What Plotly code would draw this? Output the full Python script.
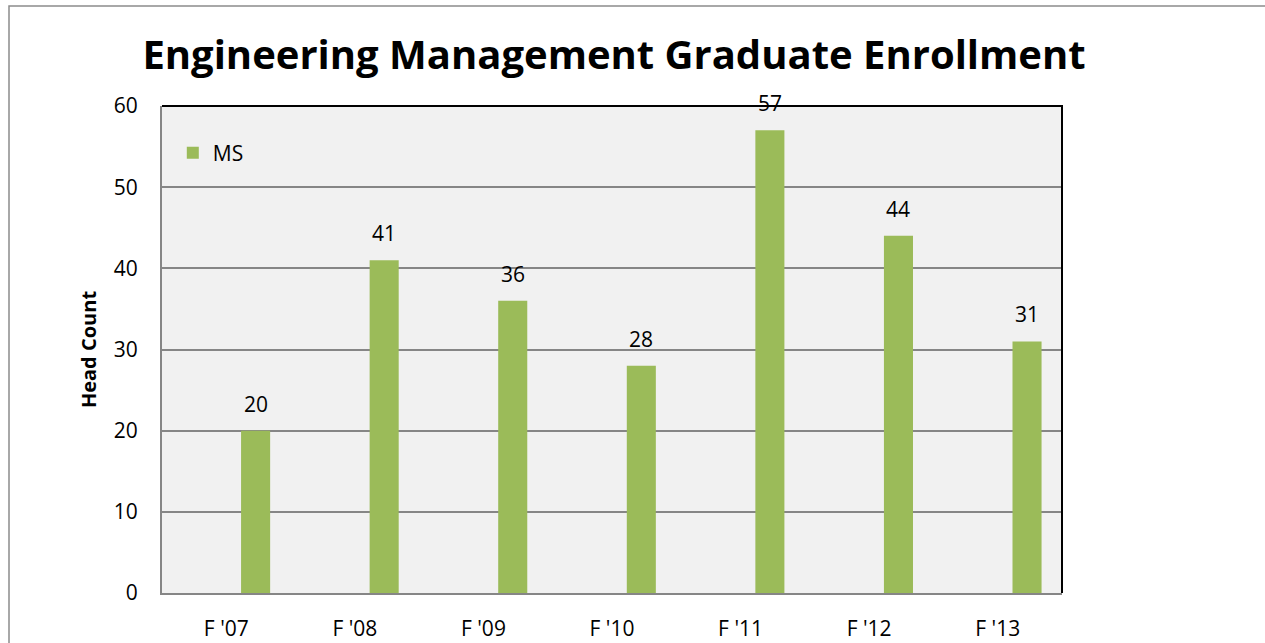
import plotly.graph_objects as go

categories = ["F '07", "F '08", "F '09", "F '10", "F '11", "F '12", "F '13"]
ms_values = [20, 41, 36, 28, 57, 44, 31]
series_name = "MS"
y_ticks = [0, 10, 20, 30, 40, 50, 60]

FONT = "Open Sans"
BAR_W = 0.226
BAR_OFF = 0.115

fig = go.Figure()
fig.add_trace(go.Bar(
    x=categories, y=ms_values, name=series_name,
    marker=dict(color="#9BBB59", line=dict(width=0)),
    width=BAR_W, offset=BAR_OFF,
))

for c, v in zip(categories, ms_values):
    fig.add_annotation(
        x=c, y=v, xref="x", yref="y", text=str(v), showarrow=False,
        xshift=(BAR_OFF + BAR_W / 2) * 900 / 7, yshift=27,
        font=dict(family=FONT, size=21, color="#000000"),
    )

# outer chart border (top and left edges visible)
fig.add_shape(type="path", xref="paper", yref="paper",
              path="M %f,%f L %f,%f L %f,%f" % (
                  (9 - 162) / 900, (593 - 700) / 487,
                  (9 - 162) / 900, (593 - 6) / 487,
                  (1300 - 162) / 900, (593 - 6) / 487),
              line=dict(color="#8C8C8C", width=1.5), layer="below")
# top/right black border of plot area
fig.add_shape(type="path", xref="paper", yref="paper",
              path="M 0,1 L 1,1 L 1,0",
              line=dict(color="#000000", width=2))

fig.update_layout(
    width=1265, height=643,
    margin=dict(l=162, r=203, t=106, b=50, autoexpand=False),
    paper_bgcolor="#FFFFFF", plot_bgcolor="#F1F1F1",
    title=dict(text="<b>Engineering Management Graduate Enrollment</b>",
               x=(614) / 1265, xanchor="center", y=1 - 55 / 643, yanchor="middle",
               font=dict(family=FONT, size=40, color="#000000")),
    font=dict(family=FONT, size=21, color="#000000"),
    showlegend=True,
    legend=dict(x=0.012, y=(593 - 153) / 487, xanchor="left", yanchor="middle",
                bgcolor="rgba(0,0,0,0)", font=dict(family=FONT, size=21),
                itemwidth=30),
    xaxis=dict(type="category", showgrid=False, showline=True,
               linecolor="#868686", linewidth=2, ticks="", automargin=False,
               ticklabelstandoff=16, range=[-0.5, 6.5],
               tickfont=dict(family=FONT, size=21)),
    yaxis=dict(range=[0, 60], tickvals=y_ticks, showgrid=True,
               gridcolor="#868686", gridwidth=1.5, showline=True,
               linecolor="#868686", linewidth=2, ticks="", automargin=False,
               ticklabelstandoff=18, zeroline=False,
               tickfont=dict(family=FONT, size=21),
               title=dict(text="<b>Head Count</b>", standoff=12,
                          font=dict(family=FONT, size=20))),
)

fig.write_html("out.html", config={"displayModeBar": False},
               post_script="document.body.style.margin='0px';document.body.style.overflow='hidden';")
